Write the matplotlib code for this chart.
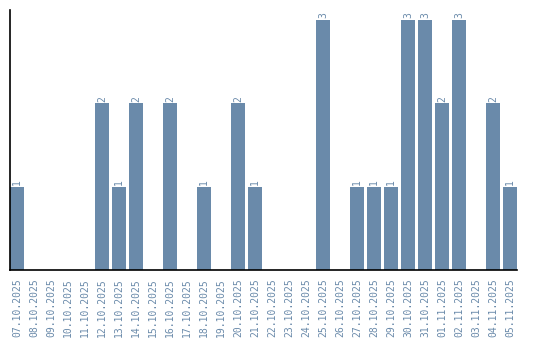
import matplotlib
matplotlib.use("Agg")
import matplotlib.pyplot as plt

dates = ["07.10.2025", "08.10.2025", "09.10.2025", "10.10.2025", "11.10.2025",
         "12.10.2025", "13.10.2025", "14.10.2025", "15.10.2025", "16.10.2025",
         "17.10.2025", "18.10.2025", "19.10.2025", "20.10.2025", "21.10.2025",
         "22.10.2025", "23.10.2025", "24.10.2025", "25.10.2025", "26.10.2025",
         "27.10.2025", "28.10.2025", "29.10.2025", "30.10.2025", "31.10.2025",
         "01.11.2025", "02.11.2025", "03.11.2025", "04.11.2025", "05.11.2025"]
counts = [1, 0, 0, 0, 0, 2, 1, 2, 0, 2,
          0, 1, 0, 2, 1, 0, 0, 0, 3, 0,
          1, 1, 1, 3, 3, 2, 3, 0, 2, 1]

bar_color = "#6a8aaa"
text_color = "#6a8aaa"

fig = plt.figure(figsize=(5.4, 3.4), dpi=100)
ax = fig.add_axes([10 / 540, 70 / 340, 507 / 540, 260 / 340])

x = range(len(dates))
w = 0.82
ax.bar(x, counts, width=w, color=bar_color)

# value labels above non-empty bars
for i, v in enumerate(counts):
    if v > 0:
        ax.text(i, v + 0.02, str(v), rotation=90, ha="center", va="bottom",
                fontsize=7, family="DejaVu Sans Mono", color=text_color)

ax.set_xlim(-w / 2, len(dates) - 1 + w / 2)
ax.set_ylim(0, 3.12)
ax.set_xticks(list(x))
ax.set_xticklabels(dates, rotation=90, fontsize=7, family="DejaVu Sans Mono",
                   color=text_color)
ax.tick_params(axis="x", length=0, pad=6)
ax.set_yticks([])
ax.spines["top"].set_visible(False)
ax.spines["right"].set_visible(False)
ax.spines["left"].set_color("black")
ax.spines["bottom"].set_color("black")
ax.spines["left"].set_linewidth(1.2)
ax.spines["bottom"].set_linewidth(1.2)

fig.savefig("out.png", dpi=100)
